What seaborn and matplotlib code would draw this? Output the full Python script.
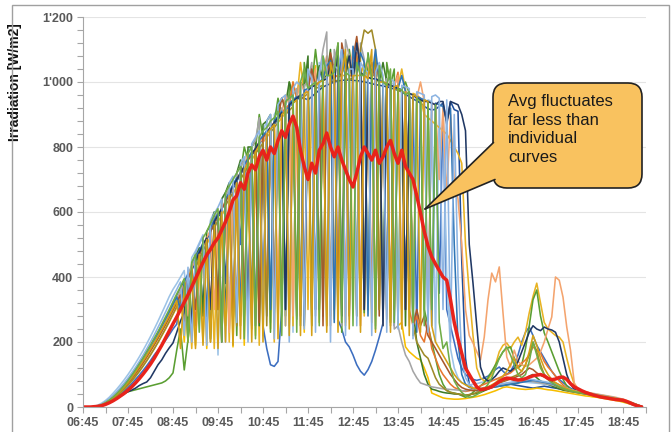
import numpy as np
import pandas as pd
import seaborn as sns
import matplotlib
matplotlib.use("Agg")
import matplotlib.pyplot as plt
from matplotlib.ticker import FixedLocator, FuncFormatter
from matplotlib.patches import FancyBboxPatch, Polygon, Rectangle
from matplotlib.lines import Line2D
from matplotlib.transforms import IdentityTransform

# ---------------- data (5-minute samples, 06:45 .. 19:10) ----------------
time_min = list(range(405, 1155, 5))

s01 = [0,0,0,1,3,7,13,21,30,40,51,64,78,93,109,126,143,161,180,199,219,240,261,283,306,329,
       352,378,250,420,448, 470,300,515,540,565, 585,600,380,650,672, 695,715,735,600,775,
       790,810,825,280,855, 870,885,900,912,925, 935,945,955,950,945, 955,965,975,985,990,
       995,1000,1003,1005,1006, 1006,1005,1004,1003,1000, 998,995,992,990,988, 985,982,978,975,970,
       962,955,948,942,935, 925,918,914,916,925, 935,880,940,915,910,
       450,150,70,55,50,52,55,60,62,65,68,70, 72,70,68,66,64,62,60,58,60,62,64,62,60,
       58,56,54,52,50,48,46,44,42,40,38,36,34,32,30,28,25,22,19,16,12,9,5,2]
s02 = [0,0,0,1,2,5,9,15,22,30,39,49,60,72,85,98,112,127,143,160,175,190,205,222,240,255,
       340,250,395,230,445, 470,495,260,540,565, 300,610,630,240,675, 695,500,735,755,300,
       790,810,250,180,130, 125,140,300,910,925, 935,270,955,965,975, 280,990,1040,1000,300,
       1010,1015,268,240,200, 185,160,130,110,98, 115,140,175,215,258, 990,985,250,980,975,
       300,965,960,230,945, 940,260,935,930,350, 920,300,250,200,150,
       120,100,90,85,82,85,90,95,105,115,123,110, 100,110,130,160,200,230,246,220,190,170,150,130,110,
       95,85,75,66,58,52,48,45,42,40,38,35,33,31,29,26,23,20,17,13,9,5,2,1]
s03 = [0,0,0,2,6,12,20,30,42,55,69,84,100,117,135,154,174,195,217,240,264,289,314,340,362,380,
       400,420,280,460,480, 505,530,300,575,600, 160,640,660,250,700, 720,250,760,790,800,
       820,300,850,880,260, 900,920,280,940,960, 230,975,1000,260,1010, 1020,300,1060,1030,250,
       1050,1080,320,1040,1030, 270,1040,1060,300,1030, 1020,1050,250,1010,1000, 280,1000,990,1020,300,
       980,250,960,955,950, 300,945,940,200,930, 925,400,180,120,90,
       75,70,68,70,72,75,78,80,82,85,88,90, 88,85,82,80,78,76,75,74,73,72,70,68,66,
       63,60,57,55,53,51,49,47,45,43,41,39,37,35,33,30,27,24,21,17,13,9,5,2]
s04 = [0,0,0,1,3,7,13,21,30,40,52,65,80,95,111,128,145,163,182,201,221,242,263,285,308,331,
       355,200,400,430,190, 475,500,180,545,570, 590,200,635,655,185, 700,720,190,760,780,
       220,815,830,845,240, 875,890,905,250,930, 1000,950,960,230,975, 985,1050,300,1005,1010,
       280,1015,1020,1080,250, 1020,1020,300,1020,1060, 1015,260,1010,1005,1000, 300,990,985,250,260,
       185,170,160,150,145, 120,90,43,38,33, 28,26,25,24,24,
       25,26,28,30,32,35,38,42,46,50,55,60, 62,60,58,56,55,54,55,56,58,57,55,53,52,
       50,48,46,44,42,40,38,36,34,33,31,30,28,26,24,22,20,18,15,12,9,6,3,1]
s05 = [0,0,0,1,3,6,12,19,27,36,46,57,69,82,96,111,127,144,162,180,199,219,240,262,285,308,
       330,355,380,180,430, 455,200,500,525,180, 570,590,610,200,655, 680,250,720,740,760,
       780,190,815,830,845, 200,875,890,905,920, 250,945,1060,965,300, 985,990,260,1000,1050,
       1010,270,1015,1020,1020, 1100,300,1020,1020,280, 1015,1010,1060,300,1000, 995,990,280,985,1040,
       975,300,965,960,950, 900,890,880,870,860, 850,840,820,800,780,
       750,500,350,220,120,90,80,85,100,130,170,190, 197,180,200,215,190,230,290,340,381,320,260,240,230,
       220,215,200,150,105,70,55,48,44,41,39,37,35,33,31,29,27,24,21,17,13,9,5,2]
s06 = [0,0,0,1,3,6,11,17,24,31,38,43,47,50,53,56,59,62,65,68,71,74,80,90,105,175,
       240,114,206,300,440, 470,495,520,210,565, 590,610,280,655,680, 220,720,800,760,250,
       795,900,830,845,230, 875,950,905,280,1000, 940,950,300,1060,975, 985,1100,1000,280,1010,
       1080,1015,1120,230,1020, 1100,1020,1080,1020,290, 1090,1010,1070,1005,300, 1060,990,1040,250,975,
       1000,965,220,950,945, 300,250,200,150,100, 70,52,45,43,40,
       35,30,35,45,55,65,75,90,110,130,150,170, 180,185,150,120,130,180,250,330,360,280,228,200,170,
       140,110,85,65,55,50,47,45,43,41,39,37,35,33,31,29,27,24,21,17,13,9,5,2]
s07 = [0,0,0,1,4,8,15,23,33,44,56,69,84,99,115,132,150,169,188,208,229,250,272,295,318,342,
       365,390,250,440,465, 490,280,540,560,600, 300,640,660,690,250, 720,760,280,800,800,
       820,250,870,880,900, 290,920,950,930,1000, 960,300,1000,980,1080, 250,1000,1050,1010,1020,
       1100,300,1030,1020,1080, 1020,1060,280,1030,1020, 300,1040,1010,1000,1060, 1000,260,990,980,970,
       250,960,300,200,150, 100,70,55,52,48, 45,43,42,40,40,
       38,36,38,40,42,45,50,55,60,62,64,66, 68,70,72,74,78,85,95,100,90,80,75,70,65,
       60,56,52,50,48,46,44,42,40,38,36,34,32,30,28,26,24,21,18,15,11,7,4,1]
s08 = [0,0,0,1,3,7,12,20,28,38,49,61,75,89,104,120,137,155,173,192,212,232,253,275,298,321,
       345,370,395,420,250, 470,495,520,300,565, 590,200,635,655,680, 290,720,740,760,240,
       795,815,830,300,860, 875,250,905,920,930, 1000,950,280,970,975, 1050,300,1000,1005,1080,
       250,1015,1020,1060,300, 1020,1020,1090,250,1020, 1015,300,1060,1005,1000, 270,990,985,1030,300,
       970,300,250,280,220, 200,260,180,150,120, 100,85,70,60,55,
       50,48,50,55,60,65,70,75,80,85,90,95, 100,105,115,125,135,145,160,185,175,166,140,123,110,
       95,80,68,58,52,48,45,43,41,39,37,35,33,31,29,27,25,22,19,16,12,8,4,1]
s09 = [0,0,0,1,4,8,14,22,31,41,53,66,80,95,111,128,146,164,183,203,223,244,265,287,309,332,
       355,380,280,430,450, 260,500,520,545,300, 590,610,635,230,680, 700,300,740,780,760,
       270,830,815,845,860, 875,300,905,960,930, 280,950,1000,970,975, 985,1040,300,1005,1060,
       1010,300,1080,1020,260, 1020,1100,1020,300,1020, 1060,1010,280,1005,1000, 995,300,990,1020,250,
       970,965,300,950,1000, 940,300,935,930,700, 920,650,900,700,640,
       500,300,220,197,170,145,215,330,412,385,431,290, 154,123,175,140,130,125,130,140,150,170,200,240,277,
       400,390,338,246,175,74,55,50,47,44,42,40,38,36,34,32,30,27,24,20,16,11,6,2]
s10 = [0,0,0,1,3,7,13,21,30,41,53,66,81,97,113,130,148,166,185,205,225,246,268,290,313,336,
       360,250,410,435,460, 300,510,250,555,580, 600,280,650,670,300, 720,740,760,250,800,
       820,890,300,860,870, 300,900,920,250,950, 960,980,300,990,1000, 1060,280,1020,1100,1154,
       300,1100,1060,250,1130, 1080,1050,300,1120,1070, 300,1030,1020,1020,250, 1010,1000,240,250,200,
       160,140,110,90,74, 70,66,62,60,58, 56,55,54,53,52,
       50,50,52,54,56,58,60,62,64,66,68,70, 72,74,76,78,80,82,80,78,76,74,72,70,68,
       65,62,59,56,53,50,48,46,44,42,40,38,36,34,32,30,28,25,22,18,14,10,5,2]
s11 = [0,0,0,1,3,6,12,19,28,38,49,61,74,88,103,119,136,154,173,192,212,233,254,276,299,322,
       345,250,395,420,300, 470,495,280,540,565, 300,610,630,655,240, 700,720,300,760,775,
       795,260,830,845,860, 300,890,950,915,250, 940,950,960,300,975, 1040,990,1000,250,1010,
       1090,1030,300,1120,1060, 280,1070,1140,1040,300, 1015,1060,1010,280,1000, 995,990,300,980,975,
       300,965,250,300,250, 280,220,200,180,160, 140,120,100,85,70,
       60,55,52,50,52,55,58,62,66,70,74,78, 82,86,90,95,100,110,120,115,105,98,92,86,80,
       74,68,62,57,53,50,47,45,43,41,39,37,35,33,31,29,27,24,21,17,13,9,5,2]
s12 = [0,0,0,1,2,5,10,17,25,34,44,55,67,80,94,109,125,142,160,179,199,220,241,263,286,309,
       330,355,380,220,430, 455,480,505,200,550, 575,260,620,640,660, 250,700,720,740,300,
       780,795,812,250,845, 860,875,300,900,912, 925,280,945,955,965, 300,980,985,990,250,
       1000,1003,1005,300,1008, 1009,1010,280,1100,1160, 1150,1160,1100,300,1000, 990,250,980,975,970,
       300,960,250,200,180, 160,150,120,90,70, 60,50,45,42,40,
       38,36,38,40,45,50,55,60,65,70,75,80, 85,90,95,100,110,130,160,200,170,130,100,85,75,
       66,60,55,51,48,46,44,42,40,38,36,34,32,30,28,26,24,21,18,15,11,7,4,1]
s13 = [0,0,0,1,3,7,14,22,31,42,54,67,82,98,115,132,150,169,188,208,228,249,271,293,316,339,
       300,385,410,250,460, 480,505,280,550,575, 595,200,640,660,685, 705,280,745,765,785,
       250,820,835,850,300, 880,895,910,300,935, 945,955,250,975,980, 990,300,1000,1010,1050,
       1065,260,1000,1100,1040, 300,1110,1030,1090,1060, 280,1010,1100,1005,1000, 300,990,985,980,1020,
       970,300,960,955,950, 945,940,250,935,930, 925,880,920,500,200,
       100,70,60,58,56,55,56,58,60,62,64,66, 68,70,72,74,76,78,80,82,80,78,76,74,72,
       68,64,60,56,52,49,46,44,42,40,38,36,34,32,30,28,26,23,20,17,13,9,5,2]
s14 = [0,0,0,1,2,4,8,13,19,26,33,41,47,52,58,66,72,77,90,110,130,145,165,182,197,230,
       265,290,400,250,450, 475,500,520,300,570, 590,610,250,655,680, 700,720,740,300,780,
       795,815,280,845,860, 875,890,905,300,930, 940,950,960,250,975, 985,990,300,1005,1010,
       1050,990,1110,280,1030, 1080,1000,1120,1040,300, 1015,1010,1010,1005,250, 995,990,985,980,975,
       300,965,960,950,945, 940,940,935,930,940, 940,870,940,935,930,
       900,850,500,381,250,123,90,80,85,95,110,120, 115,110,120,140,170,200,230,250,240,235,246,240,237,
       230,200,150,100,70,55,48,45,42,40,38,36,34,32,30,28,26,23,20,17,13,9,5,2]
s15 = [0,0,0,1,4,9,16,25,35,47,60,74,89,105,122,140,159,179,200,222,245,268,292,316,340,362,
       385,220,430,200,475, 500,525,190,570,595, 615,640,200,690,710, 260,750,770,200,810,
       830,850,220,880,900, 210,930,950,960,200, 980,1000,990,240,1040, 1010,230,1030,1080,1040,
       200,1050,1040,1100,220, 1040,1040,250,1060,1040, 1030,220,1030,1060,1020, 230,1010,1000,240,990,
       985,980,210,970,965, 960,230,955,960,950, 300,945,200,900,400,
       150,90,70,60,55,52,55,58,62,66,70,72, 74,76,78,80,82,84,86,84,82,80,78,76,74,
       70,66,62,58,54,51,48,46,44,42,40,38,36,34,32,30,28,25,22,18,14,10,5,2]
s16 = [0,0,0,1,3,7,13,20,29,39,50,62,76,91,107,124,141,159,178,197,217,238,259,281,304,327,
       180,370,200,420,180, 470,190,515,200,560, 180,600,200,650,190, 690,210,730,750,200,
       785,805,200,840,855, 870,210,900,910,220, 935,945,220,965,970, 220,985,1000,1005,230,
       1060,1010,230,1020,1100, 240,1020,1020,230,1020, 1010,1100,230,1000,1000, 995,230,985,990,240,
       970,220,960,955,230, 945,940,250,200,180, 160,140,120,100,85,
       75,68,62,58,56,55,58,62,68,75,85,95, 110,130,150,120,110,130,170,220,190,150,120,100,85,
       75,68,62,57,53,50,47,45,43,41,39,37,35,33,31,29,27,24,21,17,13,9,5,2]
s17 = [0,0,0,1,3,7,13,21,30,41,53,66,81,97,114,132,150,170,190,211,232,254,277,300,324,348,
       370,395,200,445,470, 230,520,540,565,590, 610,200,660,680,700, 720,740,210,780,800,
       210,830,850,860,880, 890,910,220,940,950, 960,230,1000,1040,980, 990,1000,250,1080,1020,
       1020,1030,1120,260,1030, 1020,250,1060,1020,1020, 1080,1010,240,1050,1000, 990,1040,260,980,975,
       960,970,260,950,940, 250,935,300,930,260, 180,200,120,80,60,
       45,35,30,32,38,45,55,70,90,120,150,170, 185,160,130,100,90,100,140,200,160,120,100,85,75,
       68,62,57,53,50,47,45,43,41,39,37,35,33,31,29,27,25,23,20,17,14,10,6,1]

avg = [0,0,0,1,2,4,8,13,19,26, 34,42,52,62,74,87,101,116,132,150,
       170,190,212,234,256,277,300,322,345,370, 395,420,445,468,485,505,520,545,570,600,
       637,650,690,670,720,745,730,770,790,760, 800,780,820,850,830,870,895,860,790,740,
       700,750,720,790,810,843,800,770,800,760, 730,700,677,720,770,800,780,760,790,750,
       770,800,820,780,750,790,740,720,700,650, 597,540,495,462,440,420,400,390,330,260,
       210,165,120,100,80,62,53,55,58,62, 70,78,85,89,88,85,83,84,87,92,
       96,98,100,96,88,84,86,91,92,85, 72,62,56,50,45,41,37,34,31,29,
       27,25,23,22,21,17,12,7,3,0]

series = [s01, s02, s03, s04, s05, s06, s07, s08, s09, s10, s11, s12, s13, s14, s15, s16, s17]
colors = ["#1F4E9A", "#3C6EC0", "#9DC3E6", "#F7BE00", "#E8B323", "#5A9E32", "#3E7B27",
          "#E8772E", "#F4A46E", "#A5A5A5", "#A9572A", "#A08A28", "#2E75B6", "#203864",
          "#8DB4E2", "#D4A017", "#70AD47"]
names = [f"S{i+1:02d}" for i in range(len(series))]

hours = np.array(time_min) / 60.0
frames = [pd.DataFrame({"t": hours, "v": vals, "s": n}) for n, vals in zip(names, series)]
df = pd.concat(frames, ignore_index=True)

# ---------------- style ----------------
sns.set_theme(style="white")
plt.rcParams["font.family"] = ["Liberation Sans", "DejaVu Sans"]

W, H = 672, 432
fig = plt.figure(figsize=(W / 100, H / 100), dpi=100)
ax = fig.add_axes([83 / W, 25 / H, 562.5 / W, 390 / H])

sns.lineplot(data=df, x="t", y="v", hue="s", palette=dict(zip(names, colors)),
             linewidth=1.15, legend=False, estimator=None, sort=False, ax=ax)
sns.lineplot(x=hours, y=avg, color="#E8231B", linewidth=2.5, estimator=None, ax=ax)

ax.set_xlim(6.75, 19.25)
ax.set_ylim(0, 1200)
ax.xaxis.set_major_locator(FixedLocator([6.75 + k for k in range(13)]))
ax.xaxis.set_minor_locator(FixedLocator([6.75 + 0.5 * k for k in range(26)]))
ax.yaxis.set_major_locator(FixedLocator(list(range(0, 1201, 200))))
ax.yaxis.set_minor_locator(FixedLocator(list(range(0, 1201, 40))))
ax.xaxis.set_major_formatter(FuncFormatter(
    lambda h, p: f"{int(h):02d}:{int(round((h % 1) * 60)):02d}"))
ax.yaxis.set_major_formatter(FuncFormatter(lambda v, p: f"{int(v):,}".replace(",", "'")))

ax.grid(axis="y", color="#E4E4E4", linewidth=0.8)
ax.grid(axis="x", visible=False)
for side in ["top", "right"]:
    ax.spines[side].set_visible(False)
for side in ["left", "bottom"]:
    ax.spines[side].set_color("#A6A6A6")
    ax.spines[side].set_linewidth(0.8)
ax.tick_params(axis="both", which="both", direction="out", length=4, width=0.8,
               color="#A6A6A6", bottom=True, left=True)
ax.tick_params(axis="both", which="major", labelsize=9, labelcolor="#595959", pad=3)
for lab in ax.get_xticklabels() + ax.get_yticklabels():
    lab.set_fontweight("bold")

ax.set_xlabel("")
ax.set_ylabel("Irradiation [W/m2]", fontsize=10, fontweight="bold", color="#111111")
ax.yaxis.set_label_coords(-0.108, 0.833)

# ---------------- outer frame ----------------
fig.add_artist(Rectangle((12, -10), 657, H - 5 + 10, transform=IdentityTransform(),
                         fill=False, ec="#A0A0A0", lw=1.0, zorder=1))

# ---------------- callout ----------------
fc = "#F9C25F"
ec = "#222222"
box = FancyBboxPatch((493, H - 188), 149, 105, boxstyle="round,pad=0,rounding_size=14",
                     transform=IdentityTransform(), fc=fc, ec=ec, lw=1.2, zorder=5)
fig.add_artist(box)
tip = (425, H - 209)
p_up = (493.5, H - 142.5)
p_lo = (495, H - 179.5)
wedge = Polygon([tip, p_up, (506, H - 142), (506, H - 180), p_lo], closed=True,
                transform=IdentityTransform(), fc=fc, ec="none", zorder=6)
fig.add_artist(wedge)
for p in (p_up, p_lo):
    fig.add_artist(Line2D([tip[0], p[0]], [tip[1], p[1]], transform=IdentityTransform(),
                          color=ec, lw=1.2, zorder=7, solid_capstyle="round"))
fig.text(508, H - 94, "Avg fluctuates\nfar less than\nindividual\ncurves",
         transform=IdentityTransform(), ha="left", va="top", fontsize=12,
         linespacing=1.3, color="#1A1A1A", zorder=8)

fig.savefig("out.png", dpi=100)
